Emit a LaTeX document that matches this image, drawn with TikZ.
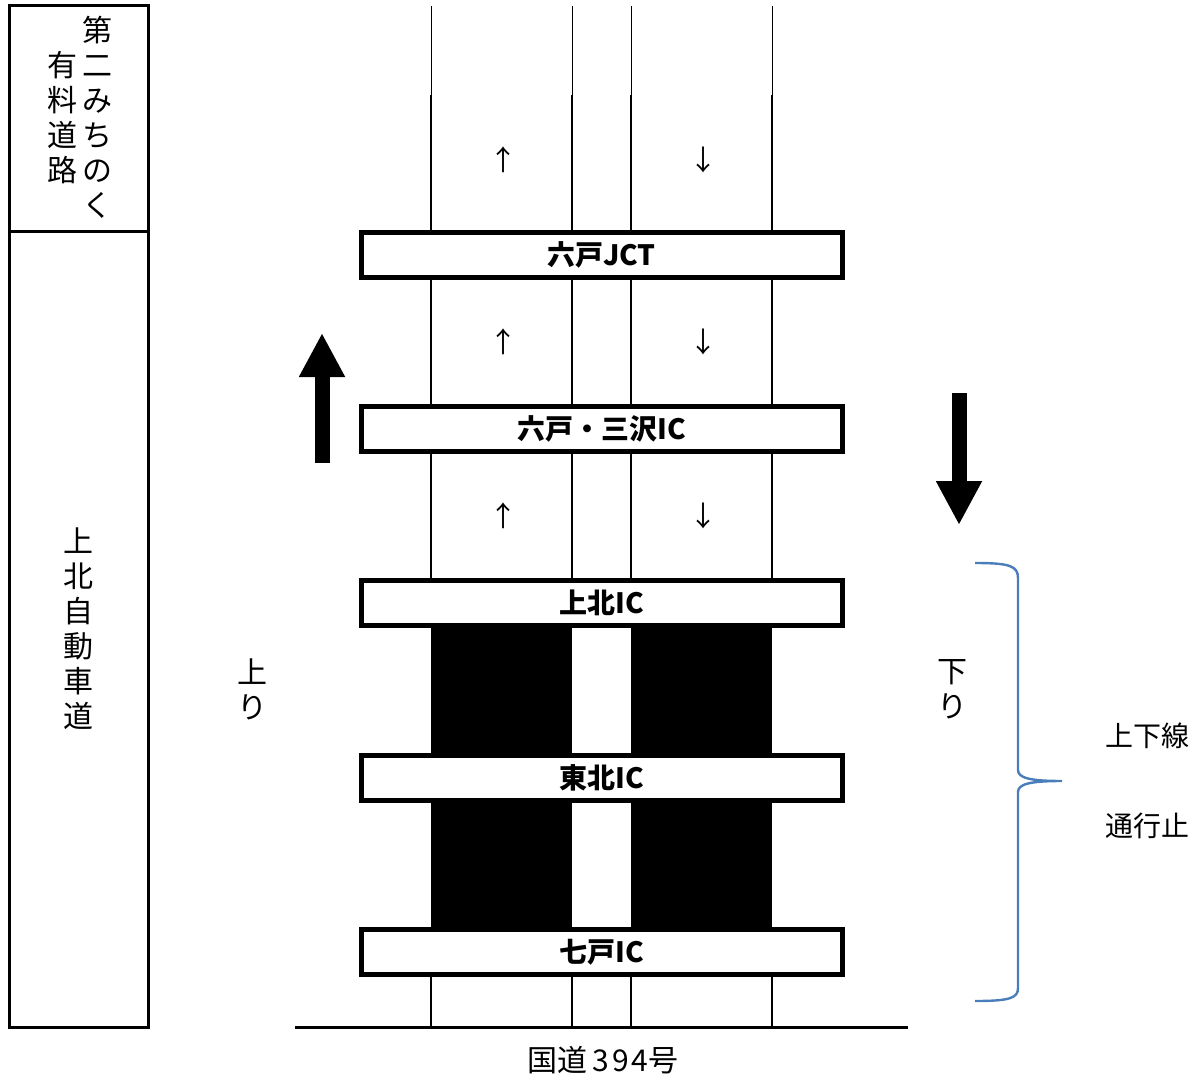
\documentclass[tikz,border=0pt]{standalone}
\usepackage{fontspec}
\setmainfont{Noto Sans CJK JP}
\usepackage{xcolor}
\usetikzlibrary{arrows.meta}

\definecolor{bracecol}{RGB}{74,126,187}

\tikzset{
  ic/.style={draw, line width=2.5pt, fill=white, minimum width=240.5pt,
    minimum height=22.5pt, inner sep=0pt, font=\bfseries\fontsize{14}{16}\selectfont},
  lane/.style={line width=1.25pt},
  tate/.style={align=center, inner sep=0pt, font=\fontsize{15}{17.5}\selectfont},
  yoko/.style={inner sep=0pt, font=\fontsize{14}{17}\selectfont},
  bigarrow/.style={line width=7.5pt, -{Triangle[width=21.5pt,length=22pt]}}
}

\begin{document}
\begin{tikzpicture}[x=0.5pt, y=-0.5pt]
	\useasboundingbox (0,0) rectangle (1197,1091);

	% left column
	\draw[line width=1.5pt] (9.5,6) rectangle (148,1027);
	\draw[line width=1.5pt] (9.5,231) -- (148,231);
	\node[tate] (michi1) at (97,117.5) {第\\二\\み\\ち\\の\\く};
	\node[tate] (michi2) at (62,117.5) {有\\料\\道\\路};
	\node[tate] (kamikita) at (78,629) {上\\北\\自\\動\\車\\道};

	% interchanges
	\node[ic] (jct) at (601.5,255) {六戸JCT};
	\node[ic] (sawa) at (601.5,429) {六戸・三沢IC};
	\node[ic] (kami) at (601.5,603) {上北IC};
	\node[ic] (tohoku) at (601.5,778) {東北IC};
	\node[ic] (shichi) at (601.5,952) {七戸IC};

	% lanes
	\coordinate (l1) at (431,0);
	\coordinate (l2) at (572,0);
	\coordinate (l3) at (631,0);
	\coordinate (l4) at (772,0);
	\foreach \l in {l1,l2,l3,l4}{
		\draw[line width=0.5pt] (\l |- 0,6) -- (\l |- 0,95);
		\draw[lane] (\l |- 0,95) -- (jct.north -| \l);
		\draw[lane] (jct.south -| \l) -- (sawa.north -| \l);
		\draw[lane] (sawa.south -| \l) -- (kami.north -| \l);
		\draw[lane] (shichi.south -| \l) -- (\l |- 0,1027);
	}

	% closed sections
	\fill (kami.south -| l1) rectangle (tohoku.north -| l2);
	\fill (kami.south -| l3) rectangle (tohoku.north -| l4);
	\fill (tohoku.south -| l1) rectangle (shichi.north -| l2);
	\fill (tohoku.south -| l3) rectangle (shichi.north -| l4);

	% direction marks
	\foreach \y/\n in {160/a,342/b,516/c}{
		\node[yoko] (up\n) at (503,\y) {↑};
		\node[yoko] (dn\n) at (703,\y) {↓};
	}

	% big arrows
	\coordinate (upS) at (322,463);
	\coordinate (upE) at (322,333);
	\coordinate (dnS) at (959,393);
	\coordinate (dnE) at (959,525);
	\draw[bigarrow] (upS) -- (upE);
	\draw[bigarrow] (dnS) -- (dnE);

	\node[tate] (nobori) at (252,689) {上\\り};
	\node[tate] (kudari) at (952,689) {下\\り};

	% brace
	\draw[bracecol, line width=1.2pt] (975,563) .. controls (1010,563) and (1018,566) .. (1018,578)
		-- (1018,770) .. controls (1018,778) and (1030,781) .. (1062,781)
		.. controls (1030,781) and (1018,784) .. (1018,792)
		-- (1018,988) .. controls (1018,998) and (1010,1001) .. (975,1001);
	\node[yoko] (stop1) at (1147,736) {上下線};
	\node[yoko] (stop2) at (1147,826) {通行止};

	% national road
	\draw[line width=1.5pt] (295,1027) -- (908,1027);
	\node[yoko, font=\fontsize{15}{17}\selectfont] (kokudo) at (603,1060) {国道\,{\addfontfeature{LetterSpace=10}394}号};
\end{tikzpicture}
\end{document}
